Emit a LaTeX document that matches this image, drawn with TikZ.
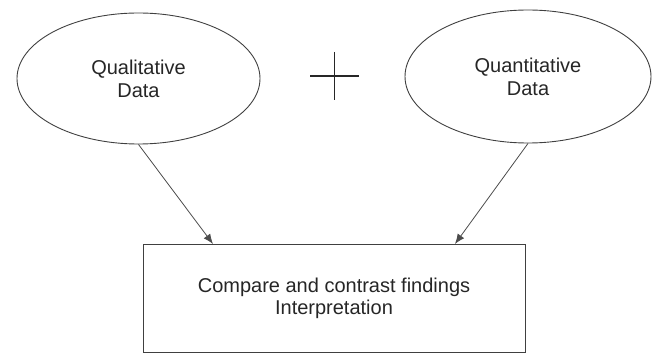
\documentclass[tikz,border=0pt]{standalone}
\usepackage{fontspec}
\setmainfont{Liberation Sans}
\usetikzlibrary{shapes.geometric,arrows.meta}
\begin{document}
\begin{tikzpicture}[x=1pt,y=-1pt,
  shapeline/.style={draw=black!75, line width=0.9pt},
  datanode/.style={shapeline, ellipse, inner sep=0pt, align=center,
    font=\fontsize{20}{23}\selectfont, text=black!85},
  boxnode/.style={shapeline, rectangle, inner sep=0pt, align=center,
    font=\fontsize{20}{22}\selectfont, text=black!85},
  conn/.style={draw=black!70, line width=0.8pt, -{Latex[length=10pt,width=8pt]}}
]
\useasboundingbox (0,0) rectangle (654,355);
\node[datanode, minimum width=243pt, minimum height=131pt] (q) at (138.5,78.5) {Qualitative\\Data};
\node[datanode, minimum width=246pt, minimum height=133pt] (n) at (528,76.5) {Quantitative\\Data};
\node[boxnode, minimum width=382pt, minimum height=108pt] (box) at (334,298) {Compare and contrast findings\\Interpretation};
\coordinate (qa) at (213,244);
\coordinate (na) at (455,244);
\draw[conn] (q.south) -- (qa);
\draw[conn] (n.south) -- (na);
\draw[draw=black!85, line width=1.1pt] (310,76) -- (359,76) (334.5,52) -- (334.5,100);
\end{tikzpicture}
\end{document}
